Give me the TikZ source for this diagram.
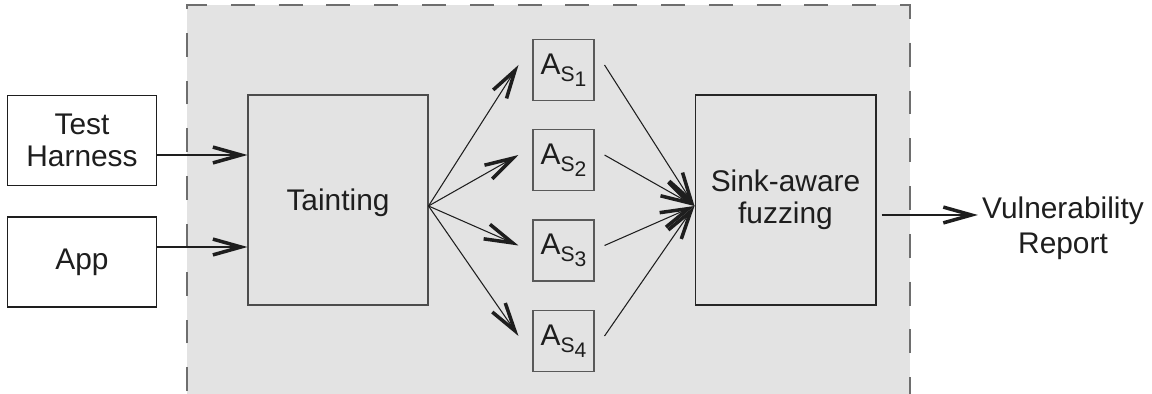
\documentclass[tikz,border=0pt]{standalone}
\usepackage{fontspec}
\setmainfont{Liberation Sans}
\usetikzlibrary{arrows.meta}

\definecolor{panelgray}{HTML}{E3E3E3}
\definecolor{dashgray}{HTML}{6E6E6E}
\definecolor{inkgray}{HTML}{1E1E1E}

% A with a two level subscript S_i
\newcommand{\asub}[1]{A\raisebox{-4pt}{\fontsize{12}{12}\selectfont S\raisebox{-2.8pt}{#1}}}

\begin{document}
\begin{tikzpicture}[x=0.02cm,y=-0.02cm,
  box/.style={draw=inkgray, line width=0.6pt, inner sep=0pt, align=center,
    text=inkgray, font=\fontsize{17}{18.5}\selectfont},
  sbox/.style={box, draw=black!65, minimum size=1.22cm},
  arr/.style={draw=inkgray, line width=0.6pt,
    -{Straight Barb[length=16pt,width=9pt,line width=2pt]}}]
\useasboundingbox (0,0) rectangle (1152,394);
\clip (0,0) rectangle (1152,394);
\fill[white] (0,0) rectangle (1152,394);

% shaded panel
\fill[panelgray] (187,5) rectangle (910,420);
\draw[dashgray, line width=1.1pt, dash pattern=on 13.6pt off 13.6pt, dash phase=10.8pt]
  (187,420) -- (187,5) -- (910,5) -- (910,420);

\node[box, fill=white, minimum width=2.98cm, minimum height=1.8cm] (harness) at (82,140.5) {Test\\Harness};
\node[box, fill=white, minimum width=2.98cm, minimum height=1.8cm] (app) at (82,262) {App};
\node[box, draw=black!70, text depth=0pt, minimum width=3.6cm, minimum height=4.2cm] (taint) at (338,200) {Tainting};
\foreach \i/\y in {1/70,2/160,3/250.5,4/341}
  \node[sbox] (as\i) at (563.5,\y) {\asub{\i}};
\node[box, draw=black!85, minimum width=3.62cm, minimum height=4.2cm] (fuzz) at (785.5,200) {\raisebox{-3pt}{Sink-aware}\\\raisebox{-3pt}{fuzzing}};
\node[box, draw=none, inner sep=5pt, font=\fontsize{17}{20}\selectfont] (report) at (1063,228) {Vulnerability\\Report};

\draw[arr] ([yshift=-0.29cm]harness.east) -- ([yshift=-0.29cm]harness.east -| taint.west);
\draw[arr] ([yshift=0.3cm]app.east) -- ([yshift=0.3cm]app.east -| taint.west);
\foreach \i in {1,...,4} {
  \draw[arr] ([yshift=-0.12cm]taint.east) -- ([shift={(-0.28cm,0.1cm)}]as\i.west);
  \draw[arr] ([shift={(0.2cm,0.1cm)}]as\i.east) -- ([yshift=-0.12cm]fuzz.west);
}
\draw[arr] ([shift={(0.1cm,-0.3cm)}]fuzz.east) -- ([shift={(0.1cm,-0.3cm)}]fuzz.east -| report.west);
\end{tikzpicture}
\end{document}
